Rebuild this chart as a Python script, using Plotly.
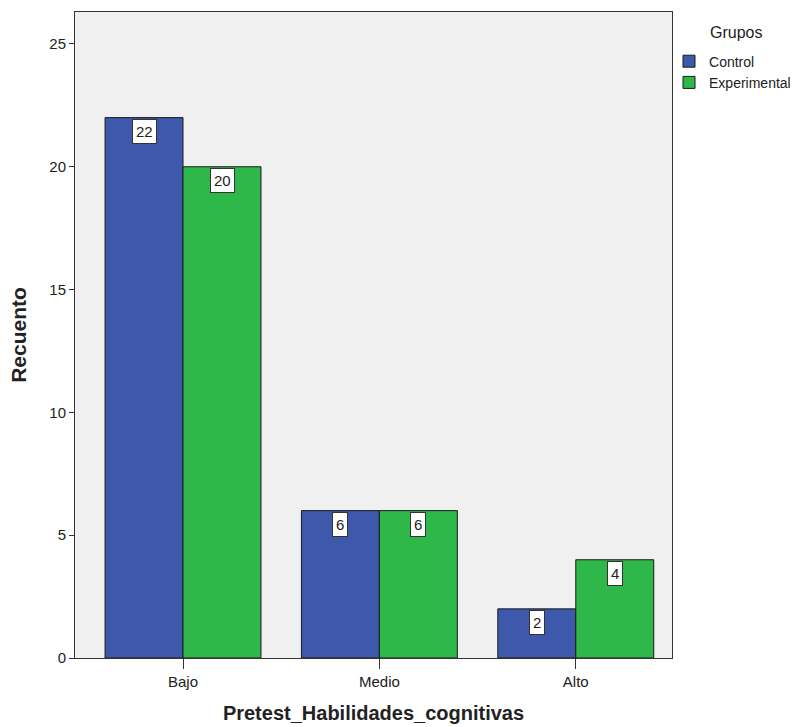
import plotly.graph_objects as go

categories = ["Bajo", "Medio", "Alto"]
control = [22, 6, 2]
experimental = [20, 6, 4]
series_names = ["Control", "Experimental"]
legend_title = "Grupos"
y_ticks = [0, 5, 10, 15, 20, 25]

colors = ["#3e58ac", "#2eb84a"]
font = "Liberation Sans, Arial, sans-serif"

fig = go.Figure()
for name, vals, col in zip(series_names, [control, experimental], colors):
    fig.add_trace(go.Bar(
        x=categories, y=vals, name=name,
        marker=dict(color=col, line=dict(color="#1a1a1a", width=1)),
    ))

# value labels in white boxes near bar tops
bar_px = 78
for vals, shift in [(control, -bar_px / 2), (experimental, bar_px / 2)]:
    for c, v in zip(categories, vals):
        fig.add_annotation(
            x=c, y=v, xref="x", yref="y", text=str(v), showarrow=False,
            xshift=shift, yanchor="top", yshift=-1,
            bgcolor="white", bordercolor="#333", borderwidth=1, borderpad=3,
            font=dict(family=font, size=15, color="#222"),
        )

fig.add_annotation(
    x=1.108, y=0.969, xref="paper", yref="paper", text=legend_title, showarrow=False,
    xanchor="center", yanchor="middle", font=dict(family=font, size=16, color="#222"),
)

fig.update_layout(
    width=798, height=727,
    margin=dict(l=75, r=126, t=12, b=69, autoexpand=False),
    paper_bgcolor="white", plot_bgcolor="#f0f0f0",
    barmode="group", bargap=0.206, bargroupgap=0,
    font=dict(family=font, size=14, color="#222"),
    legend=dict(
        x=0.995, y=0.948, xanchor="left", yanchor="top",
        font=dict(size=14, family=font), itemwidth=30, tracegroupgap=0,
        bgcolor="rgba(0,0,0,0)",
    ),
    xaxis=dict(
        range=[-0.55, 2.49], showline=True, linecolor="#333", linewidth=1, mirror=True,
        ticks="outside", ticklen=10, tickcolor="#333",
        title=dict(text="<b>Pretest_Habilidades_cognitivas</b>", font=dict(size=20, family=font), standoff=16),
        tickfont=dict(size=15),
    ),
    yaxis=dict(
        range=[0, 26.3], tickvals=y_ticks, showline=True, linecolor="#333", linewidth=1, mirror=True,
        ticks="outside", ticklen=5, tickcolor="#333", showgrid=False, zeroline=False,
        title=dict(text="<b>Recuento</b>", font=dict(size=21, family=font), standoff=16),
        tickfont=dict(size=15),
    ),
)

fig.write_html("out.html", config={"displayModeBar": False},
               post_script="document.body.style.margin='0';")
